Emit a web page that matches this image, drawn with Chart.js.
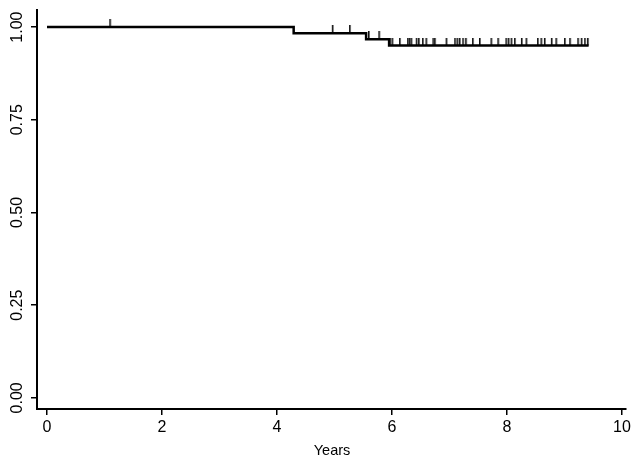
<!DOCTYPE html>
<html>
<head>
<meta charset="utf-8">
<script src="https://cdn.jsdelivr.net/npm/chart.js@4.4.1/dist/chart.umd.min.js"></script>
<style>
  body { margin: 0; background: #fff; }
</style>
</head>
<body>
<canvas id="kmChart" width="631" height="460"></canvas>
<script>
// survival curve steps (years -> survival)
const stepYears = [0, 4.29, 5.55, 5.95, 9.42];
const survival = [1, 0.983, 0.967, 0.95, 0.95];

// censored observations (years)
const censorYears = [
  1.10, 4.97, 5.27, 5.60, 5.78,
  5.97, 6.01, 6.14, 6.28, 6.31, 6.34, 6.43, 6.47, 6.54, 6.60,
  6.72, 6.75, 6.95, 7.10, 7.14, 7.18, 7.24, 7.29, 7.41, 7.53,
  7.73, 7.85, 7.99, 8.03, 8.08, 8.14, 8.26, 8.34, 8.54, 8.60,
  8.66, 8.78, 8.86, 9.01, 9.10, 9.24, 9.30, 9.36, 9.41
];

const xTicks = [0, 2, 4, 6, 8, 10];
const yTicks = [0, 0.25, 0.5, 0.75, 1];
const yTickLabels = ["0.00", "0.25", "0.50", "0.75", "1.00"];
const xTitle = "Years";

// survival level at a given time (step function lookup)
function survivalAt(t) {
  let s = survival[0];
  for (let i = 0; i < stepYears.length; i++) {
    if (stepYears[i] <= t) s = survival[i];
  }
  return s;
}

// censor mark: short vertical tick sitting on top of the curve
const tickMark = document.createElement("canvas");
tickMark.width = 4;
tickMark.height = 16;
const tctx = tickMark.getContext("2d");
tctx.fillStyle = "#111";
tctx.fillRect(1, 0, 1.6, 8);

const axisLabels = {
  id: "axisLabels",
  afterDraw(chart) {
    const { ctx, scales: { x, y } } = chart;
    ctx.save();
    ctx.fillStyle = "#000";
    ctx.textAlign = "center";
    ctx.textBaseline = "middle";
    ctx.font = "16px 'Liberation Sans', Arial, sans-serif";
    xTicks.forEach(v => ctx.fillText(String(v), x.getPixelForValue(v), 428));
    yTicks.forEach((v, i) => {
      ctx.save();
      ctx.translate(18, y.getPixelForValue(v));
      ctx.rotate(-Math.PI / 2);
      ctx.fillText(yTickLabels[i], 0, 0);
      ctx.restore();
    });
    ctx.font = "14.5px 'Liberation Sans', Arial, sans-serif";
    ctx.fillText(xTitle, 332, 451);
    ctx.restore();
  }
};

const axisStyle = {
  grid: { display: true, drawOnChartArea: false, drawTicks: true, tickLength: 6, color: "#000", lineWidth: 1.5 },
  border: { display: true, color: "#000", width: 2 },
  ticks: { display: false }
};

new Chart(document.getElementById("kmChart"), {
  type: "scatter",
  data: {
    datasets: [
      {
        data: stepYears.map((t, i) => ({ x: t, y: survival[i] })),
        showLine: true,
        stepped: "before",
        borderColor: "#000",
        borderWidth: 2.5,
        pointRadius: 0,
        fill: false
      },
      {
        data: censorYears.map(t => ({ x: t, y: survivalAt(t) })),
        showLine: false,
        pointStyle: tickMark,
        pointRadius: 4
      }
    ]
  },
  options: {
    responsive: false,
    animation: false,
    layout: { padding: { left: 31, top: 10, right: 0, bottom: 45 } },
    plugins: { legend: { display: false }, tooltip: { enabled: false } },
    scales: {
      x: {
        type: "linear",
        min: -0.174,
        max: 10.07,
        afterBuildTicks: s => { s.ticks = xTicks.map(v => ({ value: v })); },
        ...axisStyle
      },
      y: {
        type: "linear",
        min: -0.03,
        max: 1.046,
        afterBuildTicks: s => { s.ticks = yTicks.map(v => ({ value: v })); },
        ...axisStyle
      }
    }
  },
  plugins: [axisLabels]
});
</script>
</body>
</html>
